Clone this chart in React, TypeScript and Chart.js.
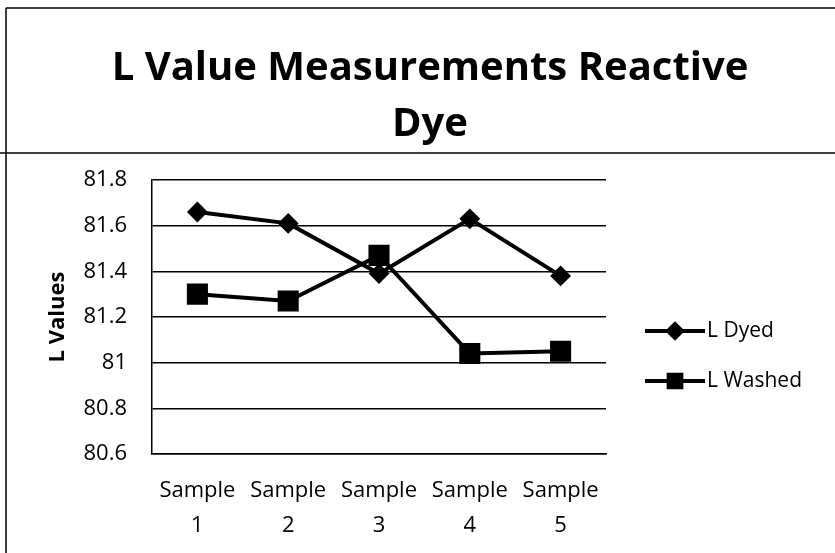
import React, { useEffect, useRef } from "react";
import { Chart, registerables } from "chart.js";
import { drawPoint } from "chart.js/helpers";

Chart.register(...registerables);

const titleLines = ["L Value Measurements Reactive", "Dye"];
const categories = [["Sample", "1"], ["Sample", "2"], ["Sample", "3"], ["Sample", "4"], ["Sample", "5"]];
const lDyed = [81.66, 81.61, 81.39, 81.63, 81.38];
const lWashed = [81.3, 81.27, 81.47, 81.04, 81.05];
const yTickLabels = ["80.6", "80.8", "81", "81.2", "81.4", "81.6", "81.8"];
const yMin = 80.6;
const yMax = 81.8;
const yStep = 0.2;
const yTitle = "L Values";
const seriesNames = ["L Dyed", "L Washed"];

const FONT = "'Open Sans', sans-serif";

const framePlugin = {
  id: "frame",
  beforeDraw(chart: any) {
    const ctx = chart.ctx;
    ctx.save();
    ctx.fillStyle = "#ffffff";
    ctx.fillRect(0, 0, chart.width, chart.height);
    ctx.strokeStyle = "#000";
    ctx.lineWidth = 1.5;
    ctx.beginPath();
    ctx.moveTo(6, 8);
    ctx.lineTo(chart.width, 8);
    ctx.moveTo(6, 8);
    ctx.lineTo(6, chart.height);
    ctx.moveTo(0, 153);
    ctx.lineTo(chart.width, 153);
    ctx.stroke();
    ctx.restore();
  },
};

const legendPlugin = {
  id: "customLegend",
  afterDraw(chart: any) {
    const ctx = chart.ctx;
    const area = chart.chartArea;
    const x0 = area.right + 39;
    const x1 = area.right + 99;
    const mid = (area.top + area.bottom) / 2;
    const ys = [mid + 14, mid + 64];
    ctx.save();
    chart.data.datasets.forEach((ds: any, i: number) => {
      const y = ys[i];
      ctx.strokeStyle = "#000";
      ctx.lineWidth = 4;
      ctx.beginPath();
      ctx.moveTo(x0, y);
      ctx.lineTo(x1, y);
      ctx.stroke();
      ctx.fillStyle = "#000";
      drawPoint(
        ctx,
        { pointStyle: ds.pointStyle, radius: i === 0 ? 7 : 9, rotation: 0, borderWidth: 1 },
        (x0 + x1) / 2,
        y
      );
      ctx.fillStyle = "#000";
      ctx.font = `21px ${FONT}`;
      ctx.textAlign = "left";
      ctx.textBaseline = "middle";
      ctx.fillText(seriesNames[i], x1 + 2, y);
    });
    ctx.restore();
  },
};

export default function App() {
  const ref = useRef<HTMLCanvasElement>(null);
  useEffect(() => {
    if (!ref.current) return;
    const chart = new Chart(ref.current, {
      type: "line",
      data: {
        labels: categories,
        datasets: [
          {
            label: seriesNames[0],
            data: lDyed,
            borderColor: "#000",
            backgroundColor: "#000",
            borderWidth: 4,
            pointStyle: "rectRot",
            pointRadius: 9,
            pointBorderWidth: 2,
            tension: 0,
          },
          {
            label: seriesNames[1],
            data: lWashed,
            borderColor: "#000",
            backgroundColor: "#000",
            borderWidth: 4,
            pointStyle: "rect",
            pointRadius: 13.5,
            pointBorderWidth: 2,
            tension: 0,
          },
        ],
      },
      options: {
        responsive: false,
        animation: false,
        layout: { padding: { left: 25, top: 0, right: 0, bottom: 0 } },
        plugins: {
          legend: { display: false },
          tooltip: { enabled: false },
          title: {
            display: true,
            text: titleLines,
            color: "#000",
            font: { family: FONT, size: 40, weight: "bold", lineHeight: 1.4 },
            padding: { top: 41, bottom: 27 },
          },
        },
        scales: {
          x: {
            offset: true,
            grid: { display: false, drawTicks: false },
            border: { display: true, color: "#000", width: 1.5 },
            ticks: {
              color: "#000",
              font: { family: FONT, size: 22, lineHeight: 1.6 },
              padding: 19,
              maxRotation: 0,
              autoSkip: false,
            },
            afterFit: (s: any) => {
              s.height = 99;
            },
          },
          y: {
            min: yMin,
            max: yMax,
            grid: { color: "#000", lineWidth: 1.5, drawTicks: false },
            border: { display: true, color: "#000", width: 1.5 },
            ticks: {
              stepSize: yStep,
              color: "#000",
              padding: 25,
              font: { family: FONT, size: 22 },
              callback: (_v: any, i: number) => yTickLabels[i],
            },
            title: {
              display: true,
              text: yTitle,
              color: "#000",
              font: { family: FONT, size: 22, weight: "bold" },
              padding: { top: 20 },
            },
            afterFit: (s: any) => {
              s.width = 127;
            },
          },
          yRight: {
            position: "right",
            display: true,
            grid: { display: false, drawTicks: false },
            border: { display: false },
            ticks: { display: false },
            afterFit: (s: any) => {
              s.width = 229;
            },
          },
        },
      },
      plugins: [framePlugin, legendPlugin],
    } as any);
    return () => chart.destroy();
  }, []);
  return (
    <canvas
      ref={ref}
      width={835}
      height={553}
      style={{ position: "fixed", left: 0, top: 0, width: 835, height: 553 }}
    />
  );
}
